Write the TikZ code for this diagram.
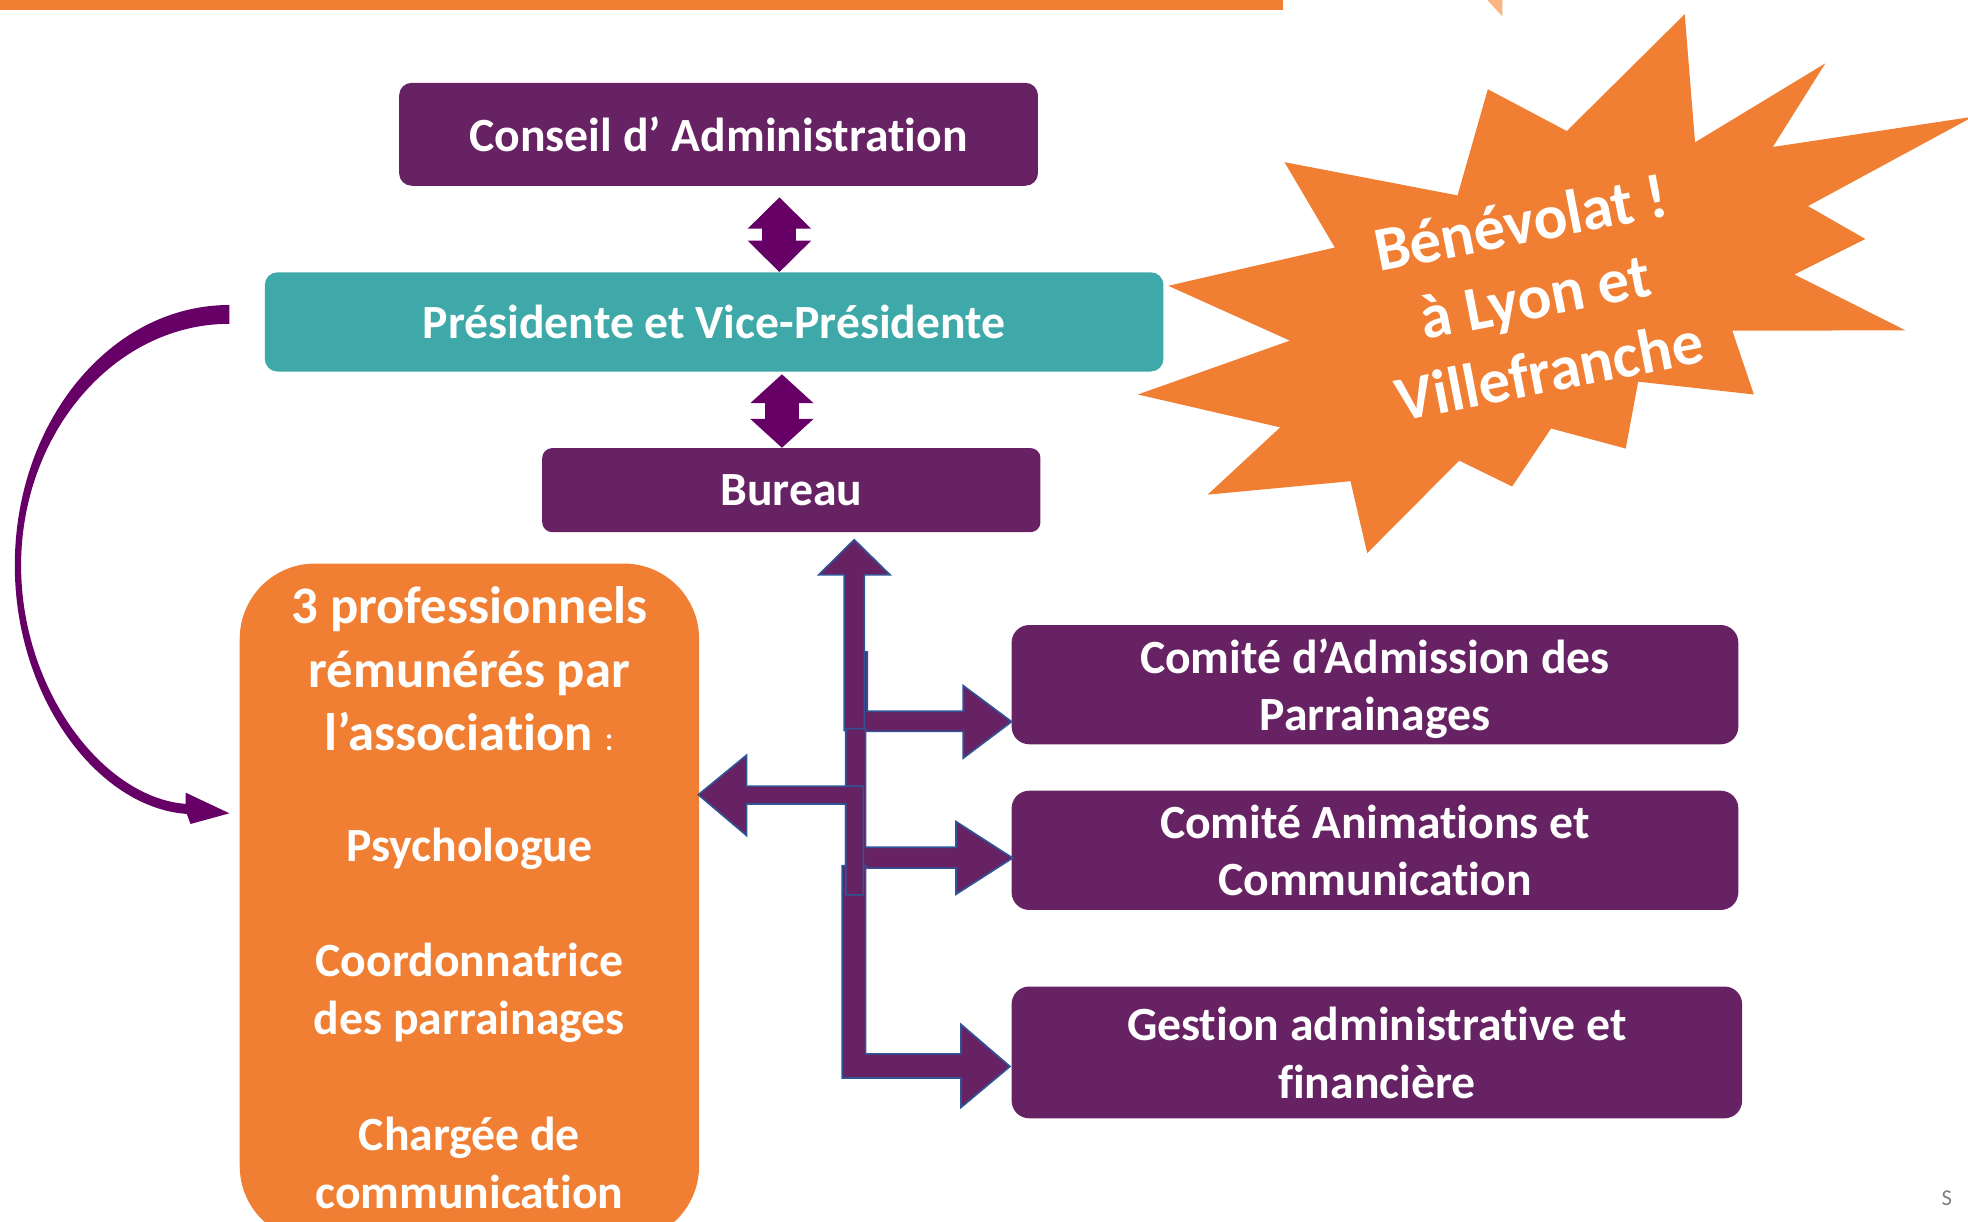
\documentclass[tikz,border=0pt]{standalone}
\usepackage{fontspec}
\setmainfont{Carlito}[Ligatures=NoCommon]
\usepackage{tikz}
\usetikzlibrary{arrows.meta}
\definecolor{orgorange}{HTML}{F07F33}
\definecolor{orglight}{HTML}{F9B481}
\definecolor{orgpurple}{HTML}{662263}
\definecolor{orgteal}{HTML}{3FA8A8}
\definecolor{orgplum}{HTML}{660066}
\definecolor{orgblue}{HTML}{2F5597}
\tikzset{
  orgbox/.style={fill=orgpurple, rounded corners=10pt, inner sep=0pt, align=center,
    text=white, font=\bfseries\fontsize{38}{46}\selectfont},
  protext/.style={inner sep=0pt, align=center, text=white, font=\bfseries\fontsize{38}{46}\selectfont},
  blockarrow/.style={fill=orgpurple, draw=orgblue, line width=1.3pt, line join=miter},
  dblarrow/.style={draw=orgplum, line width=27pt, >={Triangle[width=49pt,length=25pt]}, <->}
}
\begin{document}
\begin{tikzpicture}[x=1pt,y=-1pt]
\useasboundingbox (0,0) rectangle (1568,973);
\clip (0,0) rectangle (1568,973);
\fill[orgorange] (0,0) rectangle (1022,8);
\fill[orglight] (1185,0) -- (1197,0) -- (1197,13) -- cycle;
\fill[orgorange] (1342.3,11.3) -- (1350.5,113.4) -- (1454.3,50.5) -- (1412.5,117.1) -- (1572,93)
  -- (1440.5,164.2) -- (1486.2,190.4) -- (1429.7,218.7) -- (1518.1,263.2) -- (1380.2,263.5)
  -- (1397.4,314.3) -- (1305.2,304.1) -- (1295.3,357.4) -- (1235.8,341.4) -- (1204.8,387.6)
  -- (1162.6,367.0) -- (1089.3,440.7) -- (1076.0,383.4) -- (962.2,394.1) -- (1020.0,340.5)
  -- (906.6,314.3) -- (1027.7,271.4) -- (930.8,227.7) -- (1063.5,197.2) -- (1023.4,129.2)
  -- (1161.3,155.7) -- (1185.4,71.1) -- (1248.3,104.4) -- cycle;
\node[protext, rotate=11, font=\bfseries\fontsize{50}{60}\selectfont] (benevolat) at (1223,236)
  {Bénévolat !\\à Lyon et\\Villefranche};

\node[orgbox, minimum width=509pt, minimum height=82pt] (conseil) at (572.5,107) {Conseil d’ Administration};
\node[orgbox, fill=orgteal, minimum width=716pt, minimum height=79pt] (pres) at (569,256.5) {Présidente et Vice-Présidente};
\node[orgbox, rounded corners=8pt, minimum width=397pt, minimum height=67pt] (bureau) at (630.5,390.5) {Bureau};
\node[orgbox, rounded corners=14pt, minimum width=579pt, minimum height=95pt, text depth=0pt] (adm) at (1095.5,545.5) {Comité d’Admission des\\Parrainages};
\node[orgbox, rounded corners=14pt, minimum width=579pt, minimum height=95pt] (anim) at (1095.5,677.5) {Comité Animations et\\Communication};
\node[orgbox, rounded corners=14pt, minimum width=582pt, minimum height=105pt, text depth=0pt] (gestion) at (1097,838.5) {Gestion administrative et\\financière};

\node[fill=orgorange, rounded corners=60pt, minimum width=366pt, minimum height=540pt] (pro) at (374,719) {};
\node[protext, font=\bfseries\fontsize{42}{50.5}\selectfont] (protitle) at (374,533)
  {3 professionnels\\rémunérés par\\l’association {\mdseries\fontsize{28}{30}\selectfont :}};
\node[protext] (psy) at (374,676) {Psychologue};
\node[protext] (coord) at (374,791) {Coordonnatrice\\des parrainages};
\node[protext] (charge) at (374,926.5) {Chargée de\\communication};

\draw[dblarrow, shorten <=9pt] (conseil.south -| 621,0) -- (pres.north -| 621,0);
\draw[dblarrow, >={Triangle[width=49pt,length=23pt]}, shorten <=2pt] (pres.south -| 623,0) -- (bureau.north -| 623,0);

\coordinate (bendstart) at ([xshift=-28pt,yshift=6pt]pres.west);
\begin{scope}[shift={(bendstart)}]
\fill[orgplum] (0,-7.5) .. controls (-95,-7.5) and (-171,86) .. (-171,200)
  .. controls (-171,305) and (-105,393) .. (-34,398) -- (-31,406) -- (0,397.5) -- (-35,381) -- (-35,390)
  .. controls (-100,385) and (-166,300) .. (-166,200)
  .. controls (-166,95) and (-92,7.5) .. (0,7.5) -- cycle;
\end{scope}

\filldraw[blockarrow] (675,519.5) -- (691,519.5) -- (691,566.7) -- (767.5,566.7) -- (767.5,546.3) -- (806,575)
  -- (767.5,604) -- (767.5,582.7) -- (675,582.7) -- cycle;
\filldraw[blockarrow] (672.5,582) -- (672.5,458) -- (652.3,458) -- (680.6,430) -- (709.1,458) -- (688.7,458)
  -- (688.7,582) -- cycle;
\filldraw[blockarrow] (673.8,580.5) -- (689.7,580.5) -- (689.7,675) -- (761.7,675) -- (761.7,654.6) -- (806.8,683.6)
  -- (761.7,712.5) -- (761.7,691.7) -- (673.8,691.7) -- cycle;
\filldraw[blockarrow] (671.1,689.7) -- (689.7,689.7) -- (689.7,839.7) -- (765.7,839.7) -- (765.7,816.2) -- (804.7,849.7)
  -- (765.7,882.3) -- (765.7,858.9) -- (671.1,858.9) -- cycle;
\filldraw[blockarrow] (687.9,626.3) -- (687.9,713) -- (673.8,713) -- (673.8,640.6) -- (594.9,640.6) -- (594.9,665.8)
  -- (556.4,633.2) -- (594.9,601.6) -- (594.9,626.3) -- cycle;

\node[text=gray, font=\fontsize{18}{20}\selectfont] (pagenum) at (1551,955) {S};
\end{tikzpicture}
\end{document}
